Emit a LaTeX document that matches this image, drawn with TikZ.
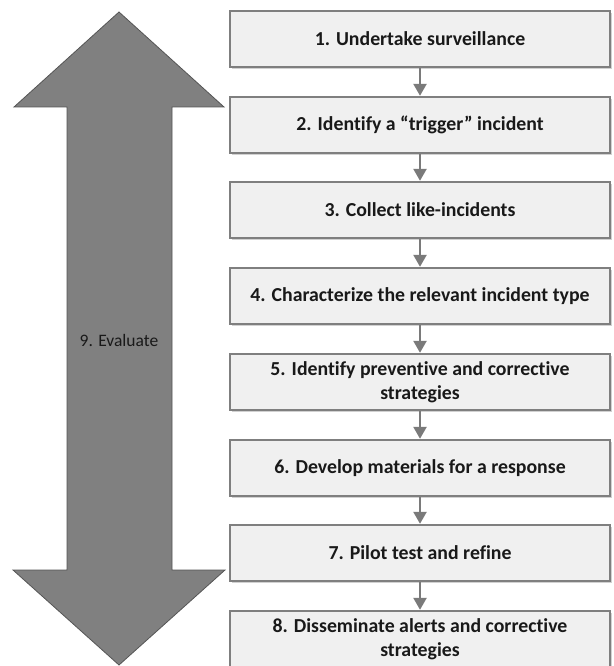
\documentclass[tikz,border=0pt]{standalone}
\usepackage{fontspec}
\setmainfont{Carlito}[Ligatures=NoCommon]
\usetikzlibrary{arrows.meta,shadows}
\definecolor{boxedge}{HTML}{7F7F7F}
\definecolor{boxfill}{HTML}{F0F0F0}
\definecolor{arrowgray}{HTML}{7A7A7A}
\definecolor{bigfill}{HTML}{808080}
\definecolor{bigedge}{HTML}{555555}
\begin{document}
\begin{tikzpicture}[x=1pt,y=-1pt,
  stepbox/.style={draw=boxedge, fill=boxfill, line width=2.4pt,
    minimum width=380pt, minimum height=56pt, inner sep=0pt, align=center,
    font=\fontsize{19.8}{23.5}\selectfont\bfseries, text=black!90,
    drop shadow={shadow xshift=1.5pt, shadow yshift=-2pt, opacity=0.18, fill=black}},
  flow/.style={draw=arrowgray, line width=2.5pt, -{Triangle[width=13pt,length=12pt]}},
  bigarrow/.style={fill=bigfill, draw=bigedge, line width=0.8pt, line join=miter},
  evlabel/.style={font=\fontsize{17.5}{20}\selectfont, text=black!90}]
\useasboundingbox (0,0) rectangle (613,666);
\clip (0,0) rectangle (613,666);
% big double arrow
\draw[bigarrow] (119,12) -- (224,107) -- (172,107) -- (172,570) -- (225,570)
  -- (119,665) -- (13,570) -- (67,570) -- (67,107) -- (14,107) -- cycle;
\node[evlabel] (ev) at (119,340) {9. Evaluate};
% steps
\node[stepbox] (b1) at (420,39)  {1. Undertake surveillance};
\node[stepbox] (b2) at (420,125) {2. Identify a “trigger” incident};
\node[stepbox] (b3) at (420,210) {3. Collect like-incidents};
\node[stepbox] (b4) at (420,296) {4. Characterize the relevant incident type};
\node[stepbox] (b5) at (420,382) {5. Identify preventive and corrective\\strategies};
\node[stepbox] (b6) at (420,468) {6. Develop materials for a response};
\node[stepbox] (b7) at (420,553) {7. Pilot test and refine};
\node[stepbox] (b8) at (420,639) {8. Disseminate alerts and corrective\\strategies};
% connectors
\draw[flow] (b1.south) -- (b2.north);
\draw[flow] (b2.south) -- (b3.north);
\draw[flow] (b3.south) -- (b4.north);
\draw[flow] (b4.south) -- (b5.north);
\draw[flow] (b5.south) -- (b6.north);
\draw[flow] (b6.south) -- (b7.north);
\draw[flow] (b7.south) -- (b8.north);
\end{tikzpicture}
\end{document}
